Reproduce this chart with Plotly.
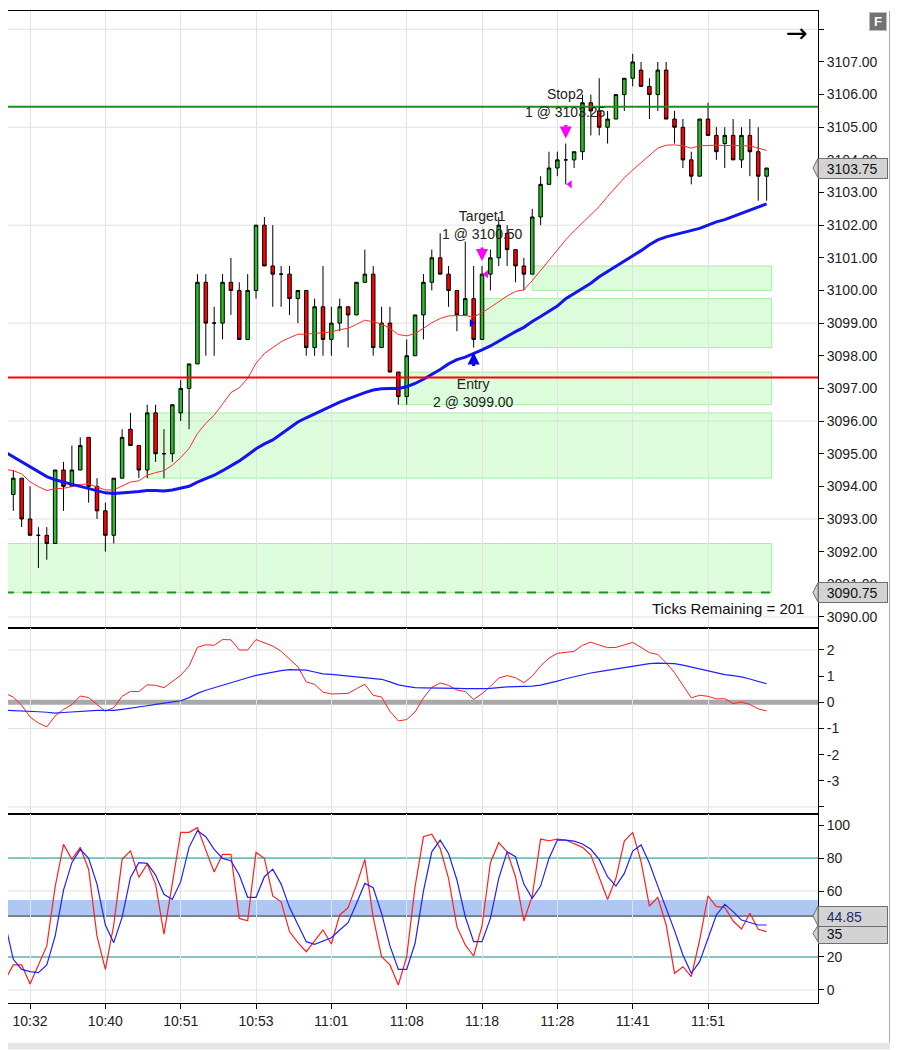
import plotly.graph_objects as go
from plotly.subplots import make_subplots

FONT = "Liberation Sans, Arial, sans-serif"

# ---- data ----
bars = list(range(91))
ma_bars = [-1] + bars
tick_bars = [2, 11, 20, 29, 38, 47, 56, 65, 74, 83]
tick_times = ["10:32", "10:40", "10:51", "10:53", "11:01", "11:08", "11:18", "11:28", "11:41", "11:51"]

opens = [3093.75, 3094.25, 3093.0, 3092.5, 3092.5, 3092.25, 3094.5, 3094.0, 3094.5, 3095.5,
         3094.0, 3093.25, 3092.5, 3094.25, 3095.75, 3095.25, 3094.5, 3096.25, 3095.0, 3095.0,
         3096.25, 3097.0, 3097.75, 3100.25, 3099.0, 3099.0, 3100.25, 3100.0, 3098.5, 3100.0,
         3102.0, 3100.75, 3100.5, 3100.5, 3099.75, 3100.0, 3098.25, 3099.5, 3098.5, 3099.0,
         3099.5, 3099.25, 3100.25, 3100.5, 3098.25, 3099.0, 3097.5, 3096.75, 3098.0, 3099.25,
         3100.25, 3101.0, 3100.5, 3100.0, 3099.25, 3099.75, 3098.5, 3100.5, 3101.0, 3101.75,
         3101.25, 3100.75, 3100.5, 3102.25, 3103.25, 3103.75, 3104.0, 3104.0, 3104.25, 3105.75,
         3105.5, 3105.0, 3105.25, 3106.0, 3106.5, 3106.75, 3106.25, 3106.0, 3106.75, 3105.25,
         3105.0, 3104.0, 3103.5, 3105.25, 3104.75, 3104.5, 3104.75, 3104.0, 3104.75, 3104.25,
         3103.5]
highs = [3094.5, 3094.25, 3094.0, 3092.75, 3092.75, 3094.5, 3094.75, 3095.25, 3095.5, 3095.5,
         3094.25, 3093.5, 3094.25, 3095.75, 3096.25, 3095.25, 3096.5, 3096.5, 3095.75, 3096.5,
         3097.25, 3097.75, 3100.5, 3100.5, 3099.5, 3100.5, 3101.0, 3100.25, 3100.5, 3102.0,
         3102.25, 3102.0, 3100.75, 3100.75, 3100.0, 3100.0, 3099.75, 3100.75, 3099.5, 3099.75,
         3099.5, 3100.25, 3101.25, 3100.75, 3099.5, 3099.5, 3097.5, 3098.5, 3099.25, 3100.5,
         3101.25, 3101.75, 3100.75, 3100.0, 3101.5, 3100.75, 3100.75, 3101.25, 3102.25, 3102.0,
         3101.25, 3101.0, 3102.5, 3103.5, 3104.25, 3104.25, 3104.5, 3104.25, 3106.0, 3106.0,
         3106.5, 3105.5, 3106.0, 3106.5, 3107.25, 3107.0, 3106.5, 3107.0, 3107.0, 3105.5,
         3105.25, 3104.25, 3105.25, 3105.75, 3105.0, 3105.0, 3105.25, 3105.0, 3105.25, 3105.0,
         3103.75]
lows = [3093.25, 3092.75, 3092.5, 3091.5, 3091.75, 3092.25, 3093.25, 3094.0, 3094.5, 3093.5,
        3093.0, 3092.0, 3092.25, 3094.25, 3095.25, 3094.25, 3094.25, 3094.75, 3094.25, 3094.75,
        3096.0, 3095.75, 3097.75, 3098.0, 3098.0, 3098.5, 3099.25, 3098.5, 3098.5, 3099.75,
        3100.75, 3099.5, 3099.5, 3099.25, 3099.0, 3098.0, 3098.0, 3098.0, 3098.0, 3098.75,
        3098.25, 3099.25, 3100.25, 3098.0, 3098.25, 3097.5, 3096.5, 3096.5, 3098.0, 3098.5,
        3100.0, 3100.5, 3099.5, 3098.75, 3099.25, 3098.25, 3098.5, 3100.0, 3100.75, 3100.75,
        3100.25, 3100.0, 3100.5, 3102.0, 3103.25, 3103.5, 3103.25, 3103.75, 3104.0, 3104.75,
        3104.75, 3104.5, 3105.25, 3105.5, 3106.25, 3106.25, 3105.25, 3105.5, 3105.25, 3104.5,
        3103.75, 3103.25, 3103.5, 3104.75, 3104.0, 3103.75, 3104.0, 3103.75, 3103.5, 3102.75,
        3102.75]
closes = [3094.25, 3093.0, 3092.5, 3092.5, 3092.25, 3094.5, 3094.0, 3094.5, 3095.25, 3094.0,
          3093.25, 3092.5, 3094.25, 3095.5, 3095.25, 3094.5, 3096.25, 3095.0, 3095.0, 3096.5,
          3097.0, 3097.75, 3100.25, 3099.0, 3099.0, 3100.25, 3100.0, 3098.5, 3100.0, 3102.0,
          3100.75, 3100.5, 3100.5, 3099.75, 3100.0, 3098.25, 3099.5, 3098.5, 3099.0, 3099.5,
          3099.25, 3100.25, 3100.5, 3098.25, 3099.0, 3097.5, 3096.75, 3098.0, 3099.25, 3100.25,
          3101.0, 3100.5, 3100.0, 3099.25, 3099.75, 3098.5, 3100.5, 3101.0, 3102.0, 3101.25,
          3100.75, 3100.5, 3102.25, 3103.25, 3103.75, 3104.0, 3104.0, 3104.25, 3105.75, 3105.5,
          3105.0, 3105.25, 3106.0, 3106.5, 3107.0, 3106.25, 3106.0, 3106.75, 3105.25, 3105.0,
          3104.0, 3103.5, 3105.25, 3104.75, 3104.25, 3104.75, 3104.0, 3104.75, 3104.25, 3103.5,
          3103.75]

ma_fast = [3094.52,
           3094.48, 3094.38, 3094.14, 3093.99, 3093.87, 3093.93, 3093.94, 3093.99, 3094.06, 3094.07,
           3093.99, 3093.89, 3093.89, 3094.0, 3094.13, 3094.17, 3094.34, 3094.42, 3094.48, 3094.65,
           3094.88, 3095.16, 3095.62, 3095.93, 3096.18, 3096.52, 3096.87, 3097.02, 3097.31, 3097.77,
           3098.07, 3098.25, 3098.43, 3098.55, 3098.66, 3098.66, 3098.68, 3098.7, 3098.73, 3098.8,
           3098.84, 3098.96, 3099.09, 3099.04, 3098.97, 3098.84, 3098.65, 3098.61, 3098.68, 3098.84,
           3099.01, 3099.14, 3099.22, 3099.23, 3099.23, 3099.19, 3099.32, 3099.48, 3099.65, 3099.83,
           3099.97, 3100.02, 3100.3, 3100.62, 3100.94, 3101.25, 3101.55, 3101.82, 3102.08, 3102.33,
           3102.57, 3102.88, 3103.18, 3103.45, 3103.69, 3103.92, 3104.15, 3104.36, 3104.45, 3104.46,
           3104.43, 3104.36, 3104.43, 3104.45, 3104.45, 3104.44, 3104.43, 3104.43, 3104.43, 3104.36,
           3104.29]
ma_slow = [3095.05,
           3094.9, 3094.75, 3094.6, 3094.45, 3094.3, 3094.2, 3094.12, 3094.06, 3094.0, 3093.94,
           3093.87, 3093.8, 3093.78, 3093.79, 3093.82, 3093.84, 3093.87, 3093.87, 3093.86, 3093.89,
           3093.94, 3094.0, 3094.13, 3094.24, 3094.34, 3094.48, 3094.63, 3094.78, 3094.96, 3095.15,
           3095.3, 3095.42, 3095.6, 3095.78, 3095.97, 3096.1, 3096.22, 3096.36, 3096.48, 3096.58,
           3096.68, 3096.78, 3096.87, 3096.95, 3096.99, 3097.0, 3097.0, 3097.05, 3097.15, 3097.28,
           3097.42, 3097.58, 3097.75, 3097.88, 3097.96, 3098.06, 3098.18, 3098.3, 3098.45, 3098.6,
           3098.74, 3098.87, 3099.05, 3099.2, 3099.36, 3099.52, 3099.75, 3099.9, 3100.06, 3100.22,
           3100.42, 3100.58, 3100.72, 3100.88, 3101.06, 3101.22, 3101.4, 3101.55, 3101.64, 3101.7,
           3101.76, 3101.82, 3101.9, 3102.0, 3102.1, 3102.17, 3102.27, 3102.35, 3102.45, 3102.55,
           3102.65]

macd_line = [0.35,
             0.2, -0.11, -0.56, -0.79, -0.94, -0.52, -0.27, -0.09, 0.24, 0.18,
             -0.09, -0.34, -0.2, 0.23, 0.42, 0.41, 0.67, 0.65, 0.56, 0.78,
             1.03, 1.39, 2.1, 2.2, 2.18, 2.4, 2.39, 2.0, 2.0, 2.4,
             2.28, 2.15, 1.95, 1.64, 1.36, 0.78, 0.69, 0.39, 0.32, 0.33,
             0.34, 0.52, 0.69, 0.27, 0.2, -0.34, -0.71, -0.66, -0.37, 0.17,
             0.57, 0.74, 0.65, 0.47, 0.41, 0.11, 0.33, 0.61, 0.93, 1.02,
             0.94, 0.75, 1.0, 1.39, 1.69, 1.87, 1.91, 1.95, 2.18, 2.3,
             2.19, 2.09, 2.1, 2.19, 2.29, 2.1, 1.9, 1.83, 1.51, 1.13,
             0.65, 0.17, 0.27, 0.23, 0.13, 0.14, -0.05, 0.01, -0.08, -0.25,
             -0.33]
macd_signal = [-0.3,
               -0.31, -0.32, -0.33, -0.36, -0.38, -0.41, -0.39, -0.37, -0.34, -0.32,
               -0.31, -0.31, -0.31, -0.27, -0.23, -0.18, -0.13, -0.08, -0.04, 0.01,
               0.06, 0.18, 0.34, 0.46, 0.56, 0.67, 0.76, 0.84, 0.94, 1.03,
               1.09, 1.16, 1.21, 1.25, 1.25, 1.23, 1.16, 1.09, 1.07, 1.04,
               1.02, 0.98, 0.94, 0.92, 0.88, 0.78, 0.67, 0.61, 0.56, 0.55,
               0.55, 0.55, 0.55, 0.53, 0.52, 0.51, 0.52, 0.53, 0.57, 0.59,
               0.6, 0.61, 0.62, 0.66, 0.73, 0.81, 0.9, 0.98, 1.06, 1.12,
               1.17, 1.22, 1.27, 1.32, 1.39, 1.44, 1.48, 1.5, 1.5, 1.48,
               1.42, 1.35, 1.27, 1.2, 1.13, 1.06, 1.02, 0.97, 0.89, 0.8,
               0.71]

stoch_k = [6.0,
           15.2, 15.2, 3.6, 15.2, 26.7, 62.6, 88.3, 79.2, 86.5, 73.1,
           32.7, 12.5, 39.4, 79.2, 84.4, 68.3, 76.4, 64.2, 33.9, 64.6,
           95.6, 95.6, 98.4, 84.8, 71.5, 82.2, 82.2, 43.4, 42.0, 83.4,
           79.8, 57.0, 53.5, 35.4, 28.7, 23.2, 29.9, 36.4, 27.9, 45.5,
           49.9, 63.6, 79.2, 44.0, 20.2, 15.2, 3.0, 20.2, 62.6, 92.9,
           94.5, 85.9, 67.7, 38.4, 27.3, 20.6, 38.8, 77.2, 89.3, 83.8,
           68.7, 41.8, 57.0, 91.5, 90.5, 91.5, 90.9, 88.9, 86.5, 81.8,
           68.7, 54.9, 67.7, 90.3, 95.6, 77.8, 50.9, 56.2, 39.4, 10.1,
           14.1, 8.1, 30.3, 57.0, 50.5, 50.1, 41.8, 37.0, 46.5, 36.8,
           35.4]
stoch_d = [41.0,
           18.6, 12.5, 11.1, 10.5, 15.2, 32.7, 60.6, 77.2, 85.3, 79.8,
           64.2, 39.4, 28.7, 44.0, 68.3, 77.2, 76.8, 69.7, 58.0, 54.9,
           65.7, 86.5, 96.6, 92.9, 85.3, 79.8, 78.4, 69.7, 56.2, 56.2,
           68.7, 73.3, 64.2, 50.1, 39.4, 29.3, 27.7, 29.9, 31.7, 36.4,
           40.8, 52.5, 64.6, 62.0, 46.5, 26.7, 12.5, 12.5, 28.3, 60.0,
           83.8, 90.9, 82.8, 66.7, 44.4, 29.3, 29.3, 43.4, 67.7, 83.8,
           80.8, 64.2, 55.6, 63.0, 79.8, 90.9, 90.9, 90.3, 88.5, 85.3,
           79.2, 68.7, 63.0, 70.7, 84.2, 87.9, 76.8, 63.0, 49.5, 36.0,
           21.2, 10.1, 17.2, 31.9, 45.5, 51.9, 47.5, 42.4, 41.0, 39.4,
           39.4]

# support zones: first bar, bottom, top
zone_start = [-1, 16, 46, 56, 62]
zone_bottom = [3090.75, 3094.25, 3096.5, 3098.25, 3100.0]
zone_top = [3092.25, 3096.25, 3097.5, 3099.75, 3100.75]
zone_end = 90.6

target_level = 3105.63
stop_level = 3097.33
floor_level = 3090.75
last_price = 3103.75

trade_bars = [55, 56, 66]
trade_names = ["Entry", "Target1", "Stop2"]
trade_qty = [2, 1, 1]
trade_prices = [3099.00, 3100.50, 3103.25]

stoch_band = [45.5, 54.5]
stoch_marker = 44.85
stoch_last = 35

price_ticks = list(range(3090, 3109))
price_grid = [3090, 3093, 3096, 3099, 3102, 3105, 3108]
macd_ticks = [-4, -3, -2, -1, 0, 1, 2]
macd_grid = [2, -1, -4]
stoch_ticks = [0, 20, 40, 60, 80, 100]
stoch_grid = [0, 60]

# ---- figure ----
fig = make_subplots(rows=3, cols=1, shared_xaxes=True, vertical_spacing=0)

fig.add_trace(go.Candlestick(
    x=bars, open=opens, high=highs, low=lows, close=closes,
    increasing=dict(line=dict(color="black", width=1), fillcolor="#28bf28"),
    decreasing=dict(line=dict(color="black", width=1), fillcolor="#ff0000"),
    whiskerwidth=0, hoverinfo="skip", showlegend=False), row=1, col=1)

fig.add_trace(go.Scatter(x=ma_bars, y=ma_fast, mode="lines",
                         line=dict(color="#ff2a2a", width=1), showlegend=False), row=1, col=1)
fig.add_trace(go.Scatter(x=ma_bars, y=ma_slow, mode="lines",
                         line=dict(color="#1414f0", width=3), showlegend=False), row=1, col=1)

# fill markers beside the bars
fig.add_trace(go.Scatter(x=[trade_bars[0] - 0.25], y=[trade_prices[0]], mode="markers",
                         marker=dict(symbol="triangle-right", size=7, color="#0000ff"),
                         showlegend=False), row=1, col=1)
fig.add_trace(go.Scatter(x=[b + 0.5 for b in trade_bars[1:]], y=trade_prices[1:], mode="markers",
                         marker=dict(symbol="triangle-left", size=7, color="#ff00ff"),
                         showlegend=False), row=1, col=1)

fig.add_trace(go.Scatter(x=ma_bars, y=macd_line, mode="lines",
                         line=dict(color="#ff2020", width=1), showlegend=False), row=2, col=1)
fig.add_trace(go.Scatter(x=ma_bars, y=macd_signal, mode="lines",
                         line=dict(color="#2020ff", width=1.2), showlegend=False), row=2, col=1)

fig.add_trace(go.Scatter(x=ma_bars, y=stoch_k, mode="lines",
                         line=dict(color="#ff2020", width=1.2), showlegend=False), row=3, col=1)
fig.add_trace(go.Scatter(x=ma_bars, y=stoch_d, mode="lines",
                         line=dict(color="#2020ff", width=1.2), showlegend=False), row=3, col=1)

# grids
for g in price_grid:
    fig.add_shape(type="line", xref="x domain", x0=0, x1=1, yref="y", y0=g, y1=g,
                  line=dict(color="#e2e2e2", width=1), layer="below")
for g in macd_grid:
    fig.add_shape(type="line", xref="x2 domain", x0=0, x1=1, yref="y2", y0=g, y1=g,
                  line=dict(color="#e2e2e2", width=1), layer="below")
for g in stoch_grid:
    fig.add_shape(type="line", xref="x3 domain", x0=0, x1=1, yref="y3", y0=g, y1=g,
                  line=dict(color="#e2e2e2", width=1), layer="below")

# zones
for s, lo, hi in zip(zone_start, zone_bottom, zone_top):
    fig.add_shape(type="rect", xref="x", yref="y", x0=s, x1=zone_end, y0=lo, y1=hi,
                  fillcolor="rgba(150,245,150,0.33)", line=dict(color="#a8eea8", width=1),
                  layer="below")

fig.add_shape(type="line", xref="x", yref="y", x0=-1, x1=zone_end, y0=floor_level, y1=floor_level,
              line=dict(color="#229022", width=2, dash="dash"))
fig.add_shape(type="line", xref="x domain", yref="y", x0=0, x1=1, y0=target_level, y1=target_level,
              line=dict(color="#228b22", width=2))
fig.add_shape(type="line", xref="x domain", yref="y", x0=0, x1=1, y0=stop_level, y1=stop_level,
              line=dict(color="#ff0000", width=2))

# macd zero line
fig.add_shape(type="line", xref="x2 domain", yref="y2", x0=0, x1=1, y0=0, y1=0,
              line=dict(color="#a9a9a9", width=5), layer="below")

# stochastic guides
fig.add_shape(type="rect", xref="x3 domain", yref="y3", x0=0, x1=1, y0=stoch_band[0], y1=stoch_band[1],
              fillcolor="#afc7f3", line=dict(width=0), layer="below")
for lvl in [20, 80]:
    fig.add_shape(type="line", xref="x3 domain", yref="y3", x0=0, x1=1, y0=lvl, y1=lvl,
                  line=dict(color="#0a8a8a", width=1), layer="below")
fig.add_shape(type="line", xref="x3 domain", yref="y3", x0=0, x1=1, y0=stoch_marker, y1=stoch_marker,
              line=dict(color="black", width=1), layer="below")

# trade arrows and labels
arrow_cols = ["#0000ff", "#ff00ff", "#ff00ff"]
label_font = dict(family=FONT, size=14, color="#222")
for i, (b, name, q, p) in enumerate(zip(trade_bars, trade_names, trade_qty, trade_prices)):
    if i == 0:
        fig.add_annotation(x=b, y=lows[b], xref="x", yref="y", text="", showarrow=True,
                           ax=0, ay=20, arrowhead=2, arrowsize=0.8, arrowwidth=3,
                           arrowcolor=arrow_cols[i], standoff=5)
        fig.add_annotation(x=b, y=lows[b], xref="x", yref="y", yanchor="top", yshift=-26,
                           text=f"{name}<br>{q} @ {p:.2f}", showarrow=False, font=label_font)
    else:
        fig.add_annotation(x=b, y=highs[b], xref="x", yref="y", text="", showarrow=True,
                           ax=0, ay=-20, arrowhead=2, arrowsize=0.8, arrowwidth=3,
                           arrowcolor=arrow_cols[i], standoff=5)
        fig.add_annotation(x=b, y=highs[b], xref="x", yref="y", yanchor="bottom", yshift=22,
                           text=f"{name}<br>{q} @ {p:.2f}", showarrow=False, font=label_font)

fig.add_annotation(xref="x domain", yref="y domain", x=0.985, y=0.031,
                   xanchor="right", yanchor="middle",
                   text="Ticks Remaining = 201", showarrow=False,
                   font=dict(family=FONT, size=15, color="#111"))


def price_tag(text, y, yref, half, color="#111"):
    fig.add_shape(type="path", xref="paper", yref=yref,
                  path=f"M 1.0 {y + half} L 0.9938 {y} L 1.0 {y - half} Z",
                  fillcolor="#d3d3d3", line=dict(color="#6e6e6e", width=1))
    fig.add_annotation(xref="paper", x=1.0, xanchor="left", yref=yref, y=y, yanchor="middle",
                       text="&nbsp;&nbsp;" + text,
                       showarrow=False, bgcolor="#d3d3d3", bordercolor="#6e6e6e", borderwidth=1,
                       borderpad=0, width=68, height=19, align="left",
                       font=dict(family=FONT, size=14, color=color))


price_tag(f"{last_price:.2f}", last_price, "y", 0.3)
price_tag(f"{floor_level:.2f}", floor_level, "y", 0.3)
price_tag(f"{stoch_last}", stoch_last - 0.8, "y3", 5)
price_tag(f"{stoch_marker:.2f}", stoch_marker, "y3", 6, color="#1a2a6a")

fig.add_annotation(xref="paper", yref="paper", x=0.974, y=0.978, xanchor="center", yanchor="middle",
                   text="→", showarrow=False,
                   font=dict(family="DejaVu Sans", size=26, color="black"))
fig.add_annotation(xref="paper", yref="paper", x=1.074, y=0.989, xanchor="center", yanchor="middle",
                   text="<b>F</b>", showarrow=False,
                   bgcolor="#727272", bordercolor="#bbbbbb", borderwidth=1, width=14, height=15,
                   font=dict(family=FONT, size=13, color="white"))

# frame and shadow
fig.add_shape(type="line", xref="paper", yref="paper", x0=1.089, x1=1.089, y0=-0.04, y1=1.0,
              line=dict(color="#333", width=1))
fig.add_shape(type="rect", xref="paper", yref="paper", x0=0, x1=1.1, y0=-0.047, y1=-0.04,
              fillcolor="#e6e6e6", line=dict(width=0))

# axes
xr = [-0.633, 96.14]
for r in (1, 2, 3):
    fig.update_xaxes(row=r, col=1, range=xr, tickvals=tick_bars, ticktext=tick_times,
                     showgrid=True, gridcolor="#e2e2e2", gridwidth=1, zeroline=False,
                     showline=True, linecolor="black", linewidth=1, mirror=True,
                     rangeslider=dict(visible=False),
                     showticklabels=(r == 3), ticks="outside" if r == 3 else "",
                     ticklen=5, tickcolor="black",
                     tickfont=dict(family=FONT, size=14, color="#222"))

axis_common = dict(side="right", showgrid=False, zeroline=False, showline=True, linecolor="black",
                   linewidth=1, ticks="outside", ticklen=5, tickcolor="black",
                   tickfont=dict(family=FONT, size=14, color="#222"))
fig.update_yaxes(row=1, col=1, range=[3089.66, 3108.56], tickvals=price_ticks,
                 ticktext=[f"{t:.2f}" if t < 3108 else "" for t in price_ticks], **axis_common)
fig.update_yaxes(row=2, col=1, range=[-4.27, 2.84], tickvals=macd_ticks,
                 ticktext=["" if t == -4 else str(t) for t in macd_ticks], **axis_common)
fig.update_yaxes(row=3, col=1, range=[-7.9, 106.7], tickvals=stoch_ticks,
                 ticktext=[str(t) for t in stoch_ticks], **axis_common)

# the page adds an 8px body margin, so the figure is sized to fit after it
fig.update_layout(
    width=890, height=1042,
    margin=dict(l=0, r=80, t=3, b=47),
    paper_bgcolor="white", plot_bgcolor="white",
    font=dict(family=FONT, size=13, color="#222"),
    boxgap=0.4, showlegend=False,
    yaxis=dict(domain=[0.378, 1.0]),
    yaxis2=dict(domain=[0.1905, 0.378]),
    yaxis3=dict(domain=[0.0, 0.1905]),
)

fig.write_html("out.html")
